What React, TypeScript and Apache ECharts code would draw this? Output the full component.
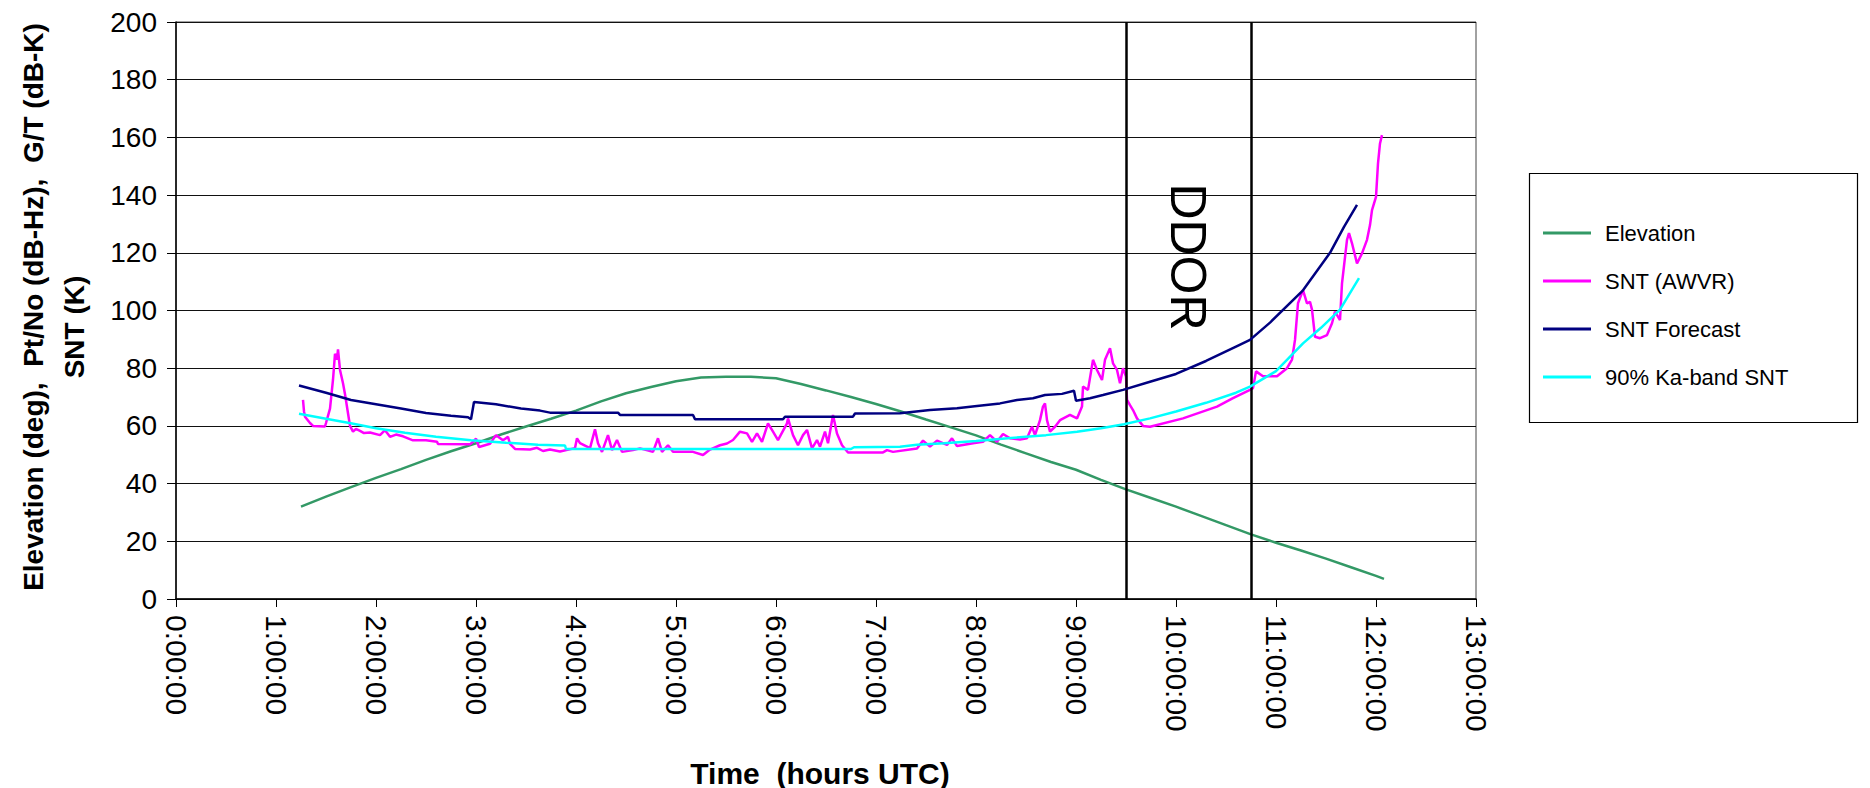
import React, { useEffect, useRef } from "react";
import * as echarts from "echarts";

// ---- data (hours UTC, value) ----
const elevation: [number, number][] = [
  [1.25, 32], [1.5, 35.5], [1.75, 38.8], [2.0, 42], [2.25, 45], [2.5, 48.2], [2.75, 51.2],
  [3.0, 54], [3.25, 57], [3.5, 59.8], [3.75, 62.5], [4.0, 65.3], [4.25, 68.5], [4.5, 71.3],
  [4.75, 73.5], [5.0, 75.5], [5.25, 76.8], [5.5, 77], [5.75, 77], [6.0, 76.5], [6.25, 74.5],
  [6.5, 72.3], [6.75, 70], [7.0, 67.6], [7.25, 65], [7.5, 62.2], [7.75, 59.5], [8.0, 56.7],
  [8.25, 53.5], [8.5, 50.5], [8.75, 47.5], [9.0, 44.8], [9.25, 41.3], [9.5, 38], [9.75, 35],
  [10.0, 32], [10.25, 28.8], [10.5, 25.6], [10.75, 22.4], [11.0, 19.5], [11.25, 16.8],
  [11.5, 14], [11.75, 11], [12.0, 8], [12.08, 7],
];

const sntAwvr: [number, number][] = [
  [1.27, 69], [1.28, 65], [1.29, 63.2], [1.34, 61], [1.37, 60], [1.49, 59.8], [1.5, 61],
  [1.54, 66], [1.57, 76], [1.59, 85], [1.61, 83], [1.62, 86.5], [1.64, 79.4], [1.67, 74.8],
  [1.69, 71], [1.72, 64.4], [1.74, 60], [1.77, 58], [1.8, 59], [1.84, 58.3], [1.88, 57.5],
  [1.94, 57.7], [2.04, 56.8], [2.09, 58.5], [2.14, 56.2], [2.2, 57], [2.27, 56.4], [2.37, 55],
  [2.5, 55], [2.61, 54.5], [2.62, 53.7], [2.94, 53.6], [2.97, 54.5], [3.0, 55.6], [3.03, 52.7],
  [3.14, 53.8], [3.2, 56.8], [3.27, 55], [3.32, 56.2], [3.34, 53.8], [3.39, 52], [3.54, 51.8],
  [3.61, 52.4], [3.67, 51.3], [3.74, 51.8], [3.84, 51.1], [3.99, 52.3], [4.01, 55.7], [4.04, 54],
  [4.14, 52.3], [4.19, 58.8], [4.22, 54], [4.26, 51], [4.32, 56.8], [4.36, 51.6], [4.41, 55.1],
  [4.46, 51], [4.57, 51.6], [4.64, 52.2], [4.77, 51], [4.82, 55.7], [4.86, 51], [4.92, 53.3],
  [4.97, 51], [5.17, 51], [5.27, 49.9], [5.34, 51.8], [5.44, 53.3], [5.51, 53.9], [5.57, 55.1],
  [5.64, 58], [5.71, 57.4], [5.76, 54.5], [5.81, 57.4], [5.86, 54.5], [5.92, 60.9], [5.97, 58],
  [6.02, 55.1], [6.11, 60.9], [6.12, 62.6], [6.17, 56.8], [6.22, 53.3], [6.27, 56.8], [6.31, 58.6],
  [6.36, 52.2], [6.41, 55.1], [6.44, 52.8], [6.49, 58], [6.52, 54], [6.57, 63.8], [6.61, 57.4],
  [6.66, 53.3], [6.72, 50.8], [7.07, 50.8], [7.11, 51.6], [7.17, 51], [7.41, 52.2], [7.47, 54.9],
  [7.54, 52.8], [7.61, 54.9], [7.71, 53.4], [7.76, 55.7], [7.81, 53], [7.97, 54], [8.07, 54.5],
  [8.14, 56.8], [8.21, 54.5], [8.27, 57.2], [8.34, 55.7], [8.44, 55.3], [8.51, 55.7], [8.56, 59.7],
  [8.59, 56.8], [8.64, 62], [8.67, 66.7], [8.69, 67.8], [8.71, 62], [8.74, 58], [8.79, 59.7],
  [8.84, 62], [8.94, 63.8], [9.01, 62.6], [9.06, 66.7], [9.07, 73.6], [9.12, 72.5], [9.17, 82.9],
  [9.21, 79.4], [9.26, 75.9], [9.29, 82.9], [9.34, 86.9], [9.37, 81.7], [9.41, 79.4], [9.44, 74.8],
  [9.47, 80], [9.5, 77.1], [9.51, 69], [9.54, 67.2], [9.57, 65.5], [9.61, 62.6], [9.67, 60],
  [9.74, 59.7], [10.07, 62.6], [10.41, 66.7], [10.57, 69.6], [10.74, 72.5], [10.77, 73.1],
  [10.8, 78.9], [10.87, 77.2], [11.01, 77.2], [11.11, 80], [11.16, 83], [11.19, 89.8],
  [11.22, 102.5], [11.27, 107.1], [11.31, 102.5], [11.34, 103], [11.36, 100.3], [11.39, 90.9],
  [11.44, 90.4], [11.51, 91.5], [11.56, 95.6], [11.59, 99.6], [11.64, 96.7], [11.66, 109.4],
  [11.71, 124.5], [11.73, 126.8], [11.76, 123.3], [11.81, 116.3], [11.86, 119.8], [11.91, 124.5],
  [11.94, 129.6], [11.96, 134.8], [12.0, 139.4], [12.02, 151], [12.04, 157.9], [12.06, 160.8],
];

const sntForecast: [number, number][] = [
  [1.23, 74], [1.5, 71.5], [1.75, 69], [2.0, 67.5], [2.25, 66], [2.5, 64.5], [2.75, 63.5],
  [2.92, 63], [2.95, 62.3], [2.98, 68.3], [3.2, 67.5], [3.45, 66], [3.64, 65.3], [3.74, 64.6],
  [4.42, 64.6], [4.44, 63.8], [5.17, 63.8], [5.19, 62.3], [6.07, 62.3], [6.09, 63.2], [6.77, 63.2],
  [6.79, 64.3], [7.24, 64.4], [7.54, 65.5], [7.81, 66.1], [8.01, 66.9], [8.24, 67.8], [8.41, 69],
  [8.57, 69.6], [8.69, 70.7], [8.86, 71.1], [8.98, 72.2], [9.0, 68.7], [9.14, 69.6], [9.27, 70.7],
  [9.47, 72.5], [9.74, 75.3], [10.0, 78], [10.3, 82.5], [10.6, 87.5], [10.74, 89.8], [10.94, 95.8],
  [11.27, 107], [11.54, 120], [11.68, 129], [11.81, 136.6],
];

const kaBand90: [number, number][] = [
  [1.23, 64.2], [1.5, 62.5], [1.76, 60.8], [2.0, 59.2], [2.29, 57.6], [2.6, 56.2], [2.95, 55],
  [3.3, 54.2], [3.62, 53.5], [3.89, 53.2], [3.9, 52], [6.75, 52], [6.78, 52.6], [7.24, 52.8],
  [7.41, 53.5], [7.68, 54], [8.0, 54.8], [8.35, 55.8], [8.7, 56.8], [9.01, 58], [9.25, 59.2],
  [9.48, 60.6], [9.74, 62.6], [10.0, 65], [10.3, 68], [10.6, 71.5], [10.74, 73.6], [11.0, 79],
  [11.27, 88.6], [11.45, 94], [11.64, 100.3], [11.83, 111.2],
];

const seriesNames = ["Elevation", "SNT (AWVR)", "SNT Forecast", "90% Ka-band SNT"];
const seriesColors = ["#339966", "#FF00FF", "#000080", "#00FFFF"];
const ddorBounds = [9.5, 10.75];
const ddorLabel = "DDOR";
const yTitleLines = ["Elevation (deg),  Pt/No (dB-Hz),  G/T (dB-K)", "SNT (K)"];
const xTitle = "Time  (hours UTC)";

const FONT = "'Liberation Sans', Arial, sans-serif";

export default function App() {
  const ref = useRef<HTMLDivElement>(null);
  useEffect(() => {
    document.body.style.margin = "0";
    if (!ref.current) return;
    const chart = echarts.init(ref.current, null, { renderer: "svg" });
    const datasets = [elevation, sntAwvr, sntForecast, kaBand90];
    const series: any[] = datasets.map((d, i) => ({
      name: seriesNames[i],
      type: "line",
      data: d,
      symbol: "none",
      showSymbol: false,
      lineStyle: { color: seriesColors[i], width: 2.5 },
      itemStyle: { color: seriesColors[i] },
      z: 3 + i,
    }));
    series[0].markLine = {
      silent: true,
      symbol: ["none", "none"],
      label: { show: false },
      lineStyle: { color: "#000", width: 2.5, type: "solid" },
      data: ddorBounds.map((x) => ({ xAxis: x })),
    };
    chart.setOption({
      animation: false,
      backgroundColor: "#fff",
      textStyle: { fontFamily: FONT },
      grid: {
        left: 176, right: 394, top: 22, bottom: 189,
        show: true, borderColor: "#444", borderWidth: 1,
      },
      xAxis: {
        type: "value", min: 0, max: 13, interval: 1,
        axisLine: { show: true, onZero: false, lineStyle: { color: "#000", width: 1.5 } },
        axisTick: { show: true, inside: false, length: 8, lineStyle: { color: "#000" } },
        splitLine: { show: false },
        axisLabel: {
          rotate: -90, margin: 16, fontSize: 30, color: "#000", fontFamily: FONT,
          formatter: (v: number) => `${v}:00:00`,
        },
      },
      yAxis: {
        type: "value", min: 0, max: 200, interval: 20,
        axisLine: { show: true, lineStyle: { color: "#000", width: 1.5 } },
        axisTick: { show: true, inside: false, length: 9, lineStyle: { color: "#000" } },
        splitLine: { show: true, lineStyle: { color: "#111", width: 1 } },
        axisLabel: { margin: 19, fontSize: 28, color: "#000", fontFamily: FONT },
      },
      legend: {
        orient: "vertical",
        left: 1538, top: 216,
        itemWidth: 48, itemHeight: 3, itemGap: 24,
        icon: "rect",
        textStyle: { fontSize: 22, lineHeight: 24, color: "#000", fontFamily: FONT, padding: [0, 0, 0, 9] },
        data: seriesNames,
      },
      graphic: [
        {
          type: "rect", left: 1527, top: 171,
          shape: { width: 328, height: 249 },
          style: { fill: "none", stroke: "#000", lineWidth: 1.2 },
          z: 1,
        },
        {
          type: "text", x: 33, y: 307, rotation: Math.PI / 2,
          style: { text: yTitleLines[0], font: `bold 28px ${FONT}`, fill: "#000", align: "center", verticalAlign: "middle" },
        },
        {
          type: "text", x: 74, y: 327, rotation: Math.PI / 2,
          style: { text: yTitleLines[1], font: `bold 28px ${FONT}`, fill: "#000", align: "center", verticalAlign: "middle" },
        },
        {
          type: "text", x: 820, y: 773,
          style: { text: xTitle, font: `bold 30px ${FONT}`, fill: "#000", align: "center", verticalAlign: "middle" },
        },
        {
          type: "text", x: 1188, y: 257, rotation: -Math.PI / 2,
          style: { text: ddorLabel, font: `50px ${FONT}`, fill: "#000", align: "center", verticalAlign: "middle" },
          z: 10,
        },
      ],
      series,
    });
    return () => chart.dispose();
  }, []);
  return <div ref={ref} style={{ width: 1870, height: 788 }} />;
}
